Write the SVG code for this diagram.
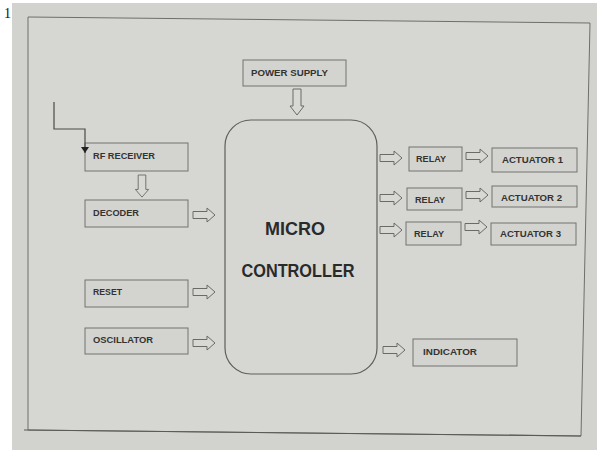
<svg xmlns="http://www.w3.org/2000/svg" width="597" height="450" viewBox="0 0 597 450">
<style>
.box{fill:#d3d3cf;stroke:#727270;stroke-width:1}
.lbl{font-family:"Liberation Sans",Arial,sans-serif;font-weight:bold;font-size:9px;fill:#333333}
.big{font-family:"Liberation Sans",Arial,sans-serif;font-weight:bold;font-size:18px;fill:#2a2a2a}
.arr{fill:#d8d8d4;stroke:#6a6a68;stroke-width:1}
.wire{fill:none;stroke:#4a4a4a;stroke-width:1.2}
</style>
<defs>
<path id="ra" d="M0,-3.5 H14 V-7 L22,0 L14,7 V3.5 H0 Z"/>
<path id="da" d="M-4,0 V17 H-7 L0,26 L7,17 H4 V0 Z"/>
<marker id="tri" markerWidth="7" markerHeight="8" refX="6" refY="4" orient="auto" markerUnits="userSpaceOnUse">
<path d="M0,0 L6,4 L0,8 Z" fill="#222"/>
</marker>
</defs>
<rect x="0" y="0" width="597" height="450" fill="#ffffff"/>
<rect x="12" y="3" width="585" height="447" fill="#d2d2ce"/>
<text x="4" y="18" font-family="Liberation Serif,serif" font-size="14" fill="#111">1</text>
<path d="M28,17 L590,23 L581,436 L28,430 Z" fill="#d6d6d2" stroke="#6e6e6c" stroke-width="1"/>
<line x1="24" y1="430" x2="581" y2="436" stroke="#5a5a58" stroke-width="1.2"/>

<g id="power-supply"><rect class="box" x="243" y="60" width="103" height="26"/><text class="lbl" x="251" y="76" textLength="77" lengthAdjust="spacingAndGlyphs">POWER SUPPLY</text></g>
<g id="micro-controller"><rect x="225" y="120" width="152" height="254" rx="26" ry="26" fill="#d6d6d2" stroke="#5e5e5c" stroke-width="1.2"/>
<text class="big" x="295" y="235" text-anchor="middle" textLength="60" lengthAdjust="spacingAndGlyphs">MICRO</text>
<text class="big" x="298" y="277" text-anchor="middle" textLength="113" lengthAdjust="spacingAndGlyphs">CONTROLLER</text></g>
<g id="rf-receiver"><rect class="box" x="85" y="143" width="103" height="28"/><text class="lbl" x="93" y="159" textLength="62" lengthAdjust="spacingAndGlyphs">RF RECEIVER</text></g>
<g id="decoder"><rect class="box" x="85" y="200" width="103" height="27"/><text class="lbl" x="93" y="216" textLength="46" lengthAdjust="spacingAndGlyphs">DECODER</text></g>
<g id="reset"><rect class="box" x="85" y="280" width="103" height="27"/><text class="lbl" x="93" y="295" textLength="29" lengthAdjust="spacingAndGlyphs">RESET</text></g>
<g id="oscillator"><rect class="box" x="85" y="328" width="103" height="26"/><text class="lbl" x="93" y="343" textLength="60" lengthAdjust="spacingAndGlyphs">OSCILLATOR</text></g>
<g id="relay-1"><rect class="box" x="409" y="147" width="53" height="24"/><text class="lbl" x="416" y="162" textLength="30" lengthAdjust="spacingAndGlyphs">RELAY</text></g>
<g id="relay-2"><rect class="box" x="407" y="188" width="55" height="22"/><text class="lbl" x="415" y="203" textLength="30" lengthAdjust="spacingAndGlyphs">RELAY</text></g>
<g id="relay-3"><rect class="box" x="406" y="222" width="55" height="23"/><text class="lbl" x="414" y="237" textLength="30" lengthAdjust="spacingAndGlyphs">RELAY</text></g>
<g id="actuator-1"><rect class="box" x="492" y="148" width="85" height="24"/><text class="lbl" x="502" y="163" textLength="61" lengthAdjust="spacingAndGlyphs">ACTUATOR 1</text></g>
<g id="actuator-2"><rect class="box" x="492" y="186" width="85" height="21"/><text class="lbl" x="501" y="201" textLength="61" lengthAdjust="spacingAndGlyphs">ACTUATOR 2</text></g>
<g id="actuator-3"><rect class="box" x="491" y="223" width="85" height="22"/><text class="lbl" x="500" y="237" textLength="61" lengthAdjust="spacingAndGlyphs">ACTUATOR 3</text></g>
<g id="indicator"><rect class="box" x="413" y="339" width="104" height="27"/><text class="lbl" x="423" y="355" textLength="54" lengthAdjust="spacingAndGlyphs">INDICATOR</text></g>

<g id="connectors">
<polyline class="wire" points="54,102 54,129 85,129 85,153" marker-end="url(#tri)"/>
<use href="#da" class="arr" transform="translate(297,89)"/>
<use href="#da" class="arr" transform="translate(142,175) scale(0.95,0.85)"/>
<use href="#ra" class="arr" transform="translate(193,215)"/>
<use href="#ra" class="arr" transform="translate(193,292)"/>
<use href="#ra" class="arr" transform="translate(193,343)"/>
<use href="#ra" class="arr" transform="translate(380,158)"/>
<use href="#ra" class="arr" transform="translate(466,156)"/>
<use href="#ra" class="arr" transform="translate(380,198)"/>
<use href="#ra" class="arr" transform="translate(466,195)"/>
<use href="#ra" class="arr" transform="translate(380,230)"/>
<use href="#ra" class="arr" transform="translate(465,227)"/>
<use href="#ra" class="arr" transform="translate(383,350)"/>
</g>
</svg>
